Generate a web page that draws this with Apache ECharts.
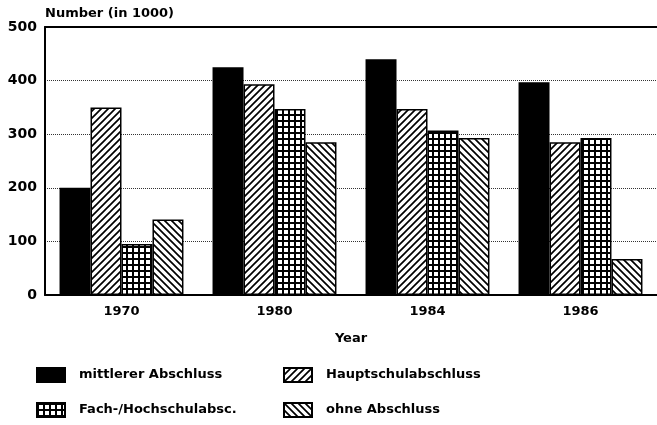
<!DOCTYPE html>
<html>
<head>
<meta charset="utf-8">
<script src="https://cdn.jsdelivr.net/npm/echarts@6/dist/echarts.min.js"></script>
<style>
  html, body { margin: 0; padding: 0; background: #fff; }
  #main { width: 657px; height: 425px; }
</style>
</head>
<body>
<div id="main"></div>
<script>
// 数据
var years = ['1970', '1980', '1984', '1986'];
var mittlerer = [200, 425, 440, 397];
var haupt = [350, 393, 347, 285];
var fach = [95, 347, 307, 293];
var ohne = [141, 285, 293, 67];
var yTicks = [0, 100, 200, 300, 400, 500];

var FONT = 'DejaVu Sans';

// 填充图案
function makePattern(kind){
    var s = kind === 'grid' ? 6 : 7;
    var c = document.createElement('canvas');
    c.width = s; c.height = s;
    var ctx = c.getContext('2d');
    ctx.fillStyle = '#fff';
    ctx.fillRect(0, 0, s, s);
    ctx.fillStyle = '#000';
    ctx.strokeStyle = '#000';
    if(kind === 'grid'){
        ctx.fillRect(0, 0, s, 2);
        ctx.fillRect(0, 0, 2, s);
        return c;
    }
    ctx.lineWidth = 1.7;
    ctx.beginPath();
    if(kind === 'fwd'){
        ctx.moveTo(0, s); ctx.lineTo(s, 0);
        ctx.moveTo(-s, s); ctx.lineTo(s, -s);
        ctx.moveTo(0, 2 * s); ctx.lineTo(2 * s, 0);
    }else{
        ctx.moveTo(0, 0); ctx.lineTo(s, s);
        ctx.moveTo(-s, 0); ctx.lineTo(s, 2 * s);
        ctx.moveTo(0, -s); ctx.lineTo(2 * s, s);
    }
    ctx.stroke();
    return c;
}

function barSeries(name, data, fill){
    return {
        name: name,
        type: 'bar',
        data: data,
        barCategoryGap: '19%',
        barGap: '0%',
        itemStyle: { color: fill, borderColor: '#000', borderWidth: 1.5 }
    };
}

function legendAt(name, left, top){
    return {
        data: [name],
        left: left,
        top: top,
        padding: 0,
        icon: 'rect',
        itemWidth: 28,
        itemHeight: 14,
        selectedMode: false,
        textStyle: { fontFamily: FONT, fontWeight: 'bold', fontSize: 13, color: '#000', padding: [0, 0, 0, 9] }
    };
}

var names = ['mittlerer Abschluss', 'Hauptschulabschluss', 'Fach-/Hochschulabsc.', 'ohne Abschluss'];

var option = {
    animation: false,
    backgroundColor: '#fff',
    grid: { left: 45, right: 0, top: 27, bottom: 130 },
    legend: [
        legendAt(names[0], 36, 367),
        legendAt(names[1], 283, 367),
        legendAt(names[2], 36, 402),
        legendAt(names[3], 283, 402)
    ],
    xAxis: [{
        type: 'category',
        data: years,
        name: 'Year',
        nameLocation: 'middle',
        nameGap: 37,
        nameTextStyle: { fontFamily: FONT, fontWeight: 'bold', fontSize: 13, color: '#000' },
        axisLine: { lineStyle: { color: '#000', width: 2 } },
        axisTick: { show: false },
        axisLabel: { fontFamily: FONT, fontWeight: 'bold', fontSize: 13, color: '#000', margin: 10 }
    }, {
        // 顶部边框
        type: 'category',
        data: years,
        position: 'top',
        axisLine: { lineStyle: { color: '#000', width: 2 } },
        axisTick: { show: false },
        axisLabel: { show: false }
    }],
    yAxis: {
        type: 'value',
        min: yTicks[0],
        max: yTicks[yTicks.length - 1],
        interval: 100,
        name: 'Number (in 1000)',
        nameLocation: 'end',
        nameGap: 7,
        nameTextStyle: { fontFamily: FONT, fontWeight: 'bold', fontSize: 13, color: '#000', align: 'left' },
        axisLine: { show: true, lineStyle: { color: '#000', width: 2 } },
        axisTick: { show: false },
        axisLabel: { fontFamily: FONT, fontWeight: 'bold', fontSize: 14, color: '#000', margin: 8 },
        splitLine: { lineStyle: { color: '#333', type: 'dotted', width: 1 } }
    },
    series: [
        barSeries(names[0], mittlerer, '#000'),
        barSeries(names[1], haupt, { image: makePattern('fwd'), repeat: 'repeat' }),
        barSeries(names[2], fach, { image: makePattern('grid'), repeat: 'repeat' }),
        barSeries(names[3], ohne, { image: makePattern('back'), repeat: 'repeat' })
    ]
};

var myChart = echarts.init(document.getElementById('main'), null, { renderer: 'canvas' });
myChart.clear();
myChart.setOption(option);
</script>
</body>
</html>
